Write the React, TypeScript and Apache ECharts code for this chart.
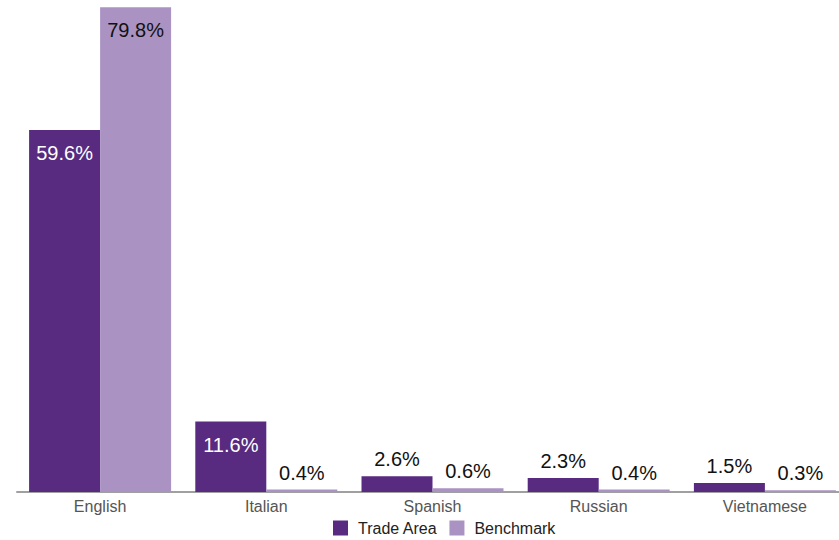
import React, { useEffect, useRef } from "react";
import * as echarts from "echarts";

const categories = ["English", "Italian", "Spanish", "Russian", "Vietnamese"];
const tradeArea = [59.6, 11.6, 2.6, 2.3, 1.5];
const benchmark = [79.8, 0.4, 0.6, 0.4, 0.3];
const seriesNames = ["Trade Area", "Benchmark"];

const FONT = "'Liberation Sans', Arial, sans-serif";

function labelFor(value: number, insideColor: string) {
  const inside = value >= 10;
  return {
    show: true,
    position: inside ? "insideTop" : "top",
    distance: inside ? 13 : 7,
    color: inside ? insideColor : "#111111",
    fontSize: 20,
    fontFamily: FONT,
    formatter: (p: any) => `${Number(p.value).toFixed(1)}%`,
  };
}

export default function App() {
  const ref = useRef<HTMLDivElement>(null);
  useEffect(() => {
    if (!ref.current) return;
    const chart = echarts.init(ref.current, undefined, { renderer: "svg" });
    chart.setOption({
      animation: false,
      textStyle: { fontFamily: FONT },
      grid: { left: 17, top: 6, width: 831, height: 486, containLabel: false },
      legend: {
        left: 328,
        top: 515,
        icon: "rect",
        itemWidth: 15,
        itemHeight: 15,
        itemGap: 12,
        data: seriesNames,
        textStyle: { fontSize: 16, color: "#222222", fontFamily: FONT, padding: [0, 0, 0, 5] },
      },
      xAxis: {
        type: "category",
        data: categories,
        axisLine: { show: true, lineStyle: { color: "#a0a0a0", width: 2 } },
        axisTick: { show: false },
        axisLabel: { color: "#555555", fontSize: 16, margin: 6, fontFamily: FONT },
      },
      yAxis: {
        type: "value",
        min: 0,
        max: 80,
        show: false,
        splitLine: { show: false },
      },
      series: [
        {
          name: seriesNames[0],
          type: "bar",
          barWidth: 71,
          barGap: "0%",
          itemStyle: { color: "#582a80" },
          data: tradeArea.map((v) => ({ value: v, label: labelFor(v, "#ffffff") })),
        },
        {
          name: seriesNames[1],
          type: "bar",
          barWidth: 71,
          barGap: "0%",
          itemStyle: { color: "#aa93c2" },
          data: benchmark.map((v) => ({ value: v, label: labelFor(v, "#111111") })),
        },
      ],
    });
    return () => chart.dispose();
  }, []);
  return (
    <div style={{ position: "absolute", left: 0, top: 0, width: 839, height: 540, overflow: "hidden", background: "#ffffff" }}>
      <div ref={ref} style={{ width: 850, height: 540 }} />
    </div>
  );
}
